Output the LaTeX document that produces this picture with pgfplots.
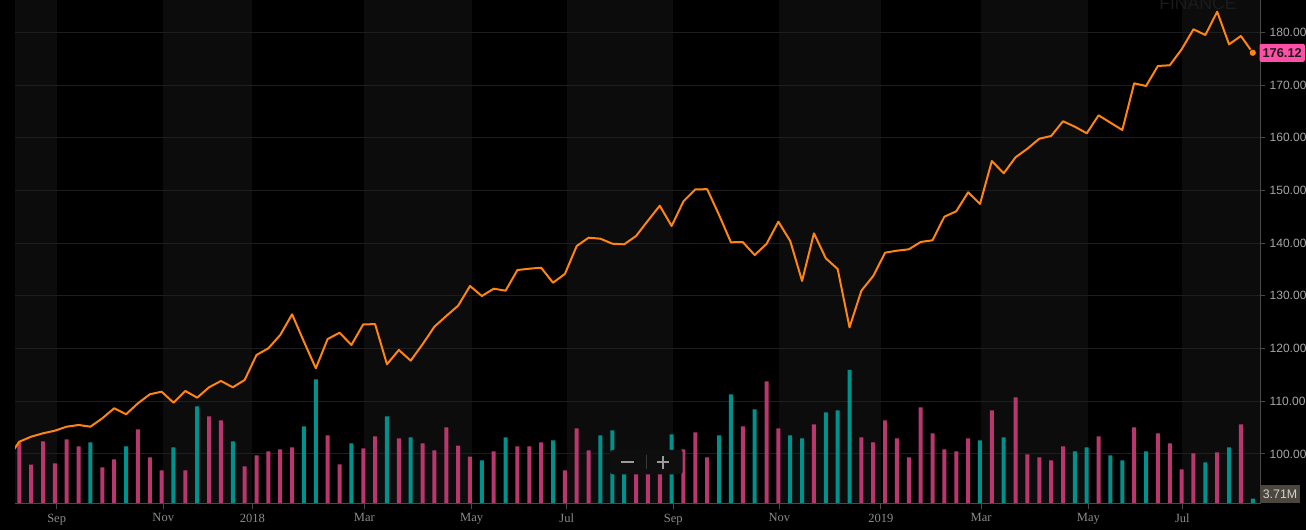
\documentclass[border=0pt]{standalone}
\usepackage{pgfplots}
\pgfplotsset{compat=1.18}
\usepackage{fontspec}
\setmainfont{Liberation Serif}
\newfontfamily\arial{Liberation Sans}
\definecolor{bg}{HTML}{000000}
\definecolor{band}{HTML}{0C0C0C}
\definecolor{gridc}{HTML}{1E1E1E}
\definecolor{up}{HTML}{B8386E}
\definecolor{down}{HTML}{00918D}
\definecolor{pline}{HTML}{FF8410}
\definecolor{lab}{HTML}{A6A6A6}
\definecolor{xlab}{HTML}{8C8C8C}
\definecolor{axc}{HTML}{4A4A4A}
\definecolor{pinkbox}{HTML}{FF4FA7}
\definecolor{labdark}{HTML}{1A1A1A}
\definecolor{volbox}{HTML}{4B473F}
\definecolor{volt}{HTML}{D0D0D0}
\definecolor{ctlbg}{HTML}{0E0E0E}
\definecolor{ctl}{HTML}{9A9A9A}
\definecolor{ctlsep}{HTML}{3A3A3A}
\definecolor{finc}{HTML}{1B1B1B}
\pgfplotsset{baseax/.style={scale only axis, width=933.75pt, height=378pt,
  at={(11.25pt,19.5pt)}, anchor=south west, xmin=-0.3626, xmax=104.61}}
\begin{document}
\begin{tikzpicture}[x=0.75pt,y=0.75pt]
\path[use as bounding box] (0,0) rectangle (1306,530);
\fill[bg] (0,0) rectangle (1306,530);
% ---- axis 1: month bands and grid
\begin{axis}[baseax, hide axis, ymin=90.51, ymax=186.13]
\fill[band] (axis cs:-0.3626,90.51) rectangle (axis cs:3.15,186.13);
\fill[band] (axis cs:12.14,90.51) rectangle (axis cs:19.65,186.13);
\fill[band] (axis cs:29.09,90.51) rectangle (axis cs:38.14,186.13);
\fill[band] (axis cs:46.16,90.51) rectangle (axis cs:55.14,186.13);
\fill[band] (axis cs:64.08,90.51) rectangle (axis cs:72.64,186.13);
\fill[band] (axis cs:81.09,90.51) rectangle (axis cs:90.14,186.13);
\fill[band] (axis cs:98.06,90.51) rectangle (axis cs:104.61,186.13);
\draw[gridc, line width=0.75pt] (axis cs:-0.3626,100) -- (axis cs:104.61,100);
\draw[gridc, line width=0.75pt] (axis cs:-0.3626,110) -- (axis cs:104.61,110);
\draw[gridc, line width=0.75pt] (axis cs:-0.3626,120) -- (axis cs:104.61,120);
\draw[gridc, line width=0.75pt] (axis cs:-0.3626,130) -- (axis cs:104.61,130);
\draw[gridc, line width=0.75pt] (axis cs:-0.3626,140) -- (axis cs:104.61,140);
\draw[gridc, line width=0.75pt] (axis cs:-0.3626,150) -- (axis cs:104.61,150);
\draw[gridc, line width=0.75pt] (axis cs:-0.3626,160) -- (axis cs:104.61,160);
\draw[gridc, line width=0.75pt] (axis cs:-0.3626,170) -- (axis cs:104.61,170);
\draw[gridc, line width=0.75pt] (axis cs:-0.3626,180) -- (axis cs:104.61,180);
\end{axis}
% watermark
\node[anchor=base west, inner sep=0pt, text=finc, font=\arial\fontsize{13.2}{13}\selectfont] at (1159,520) {FINANCE};
% ---- axis 2: volume (millions)
\begin{axis}[baseax, hide axis, ymin=0, ymax=352.8]
\addplot[ybar, bar width=3pt, bar shift=0pt, fill=up, draw=none] coordinates {
(0,43.2)(1,27.5)(2,43.9)(3,28.5)(4,45.3)(5,40.4)(7,25.7)(8,31.3)(10,52.3)(11,32.7)(12,23.6)(14,23.6)(16,61.4)(17,58.6)(19,26.4)(20,34.1)(21,36.9)(22,38.3)(23,39.7)(26,48.1)(27,27.8)(29,39.0)(30,47.4)(32,46.0)(34,42.5)(35,37.6)(36,53.7)(37,40.8)(38,33.1)(40,36.9)(42,40.4)(43,40.4)(44,43.2)(46,23.6)(47,53.0)(48,37.6)(52,33.6)(53,30.8)(54,32.2)(56,38.3)(57,50.2)(58,32.7)(61,54.4)(63,85.9)(64,53.0)(67,55.8)(71,46.7)(72,43.2)(73,58.6)(74,46.0)(75,32.7)(76,67.7)(77,49.5)(78,38.3)(79,36.9)(80,46.0)(82,65.6)(84,74.7)(85,34.8)(86,32.7)(87,30.6)(88,40.4)(91,47.4)(94,53.7)(96,49.5)(97,42.5)(98,24.3)(99,35.5)(101,36.2)(103,55.8)};
\addplot[ybar, bar width=3pt, bar shift=0pt, fill=down, draw=none] coordinates {
(6,43.2)(9,40.4)(13,39.7)(15,68.4)(18,43.9)(24,54.4)(25,87.3)(28,42.5)(31,61.4)(33,46.7)(39,30.6)(41,46.7)(45,44.6)(49,48.1)(50,51.6)(51,35.0)(55,48.8)(59,48.1)(60,76.8)(62,66.3)(65,48.1)(66,46.0)(68,64.2)(69,65.6)(70,93.8)(81,44.6)(83,46.7)(89,36.9)(90,39.7)(92,34.1)(93,30.6)(95,36.9)(100,29.2)(102,39.7)(104,3.71)};
\coordinate (lastv) at (axis cs:104.61,7);
\end{axis}
% ---- zoom control
\fill[ctlbg, rounded corners=2pt] (610,55.7) rectangle (682.7,80);
\draw[ctl, line width=1.1pt] (621,68) -- (633.5,68);
\draw[ctl, line width=1.1pt] (656.7,68) -- (669,68);
\draw[ctl, line width=1.1pt] (662.8,73.7) -- (662.8,61.3);
\draw[ctlsep, line width=0.75pt] (646.7,75) -- (646.7,61);
% ---- axis 3: price
\begin{axis}[baseax, ymin=90.51, ymax=186.13,
  axis x line*=bottom, axis y line*=right,
  axis line style={draw=axc, line width=0.75pt, -},
  tick align=outside, major tick length=3.75pt,
  tick style={draw=axc, line width=0.75pt},
  xtick={3.15,12.14,19.65,29.09,38.14,46.16,55.14,64.08,72.64,81.09,90.14,98.06},
  xticklabels={Sep,Nov,2018,Mar,May,Jul,Sep,Nov,2019,Mar,May,Jul},
  x tick label style={font=\fontsize{9.4}{11}\selectfont, text=xlab},
  ytick={100,110,120,130,140,150,160,170,180},
  yticklabel pos=right,
  y tick label style={font=\arial\fontsize{9}{11}\selectfont, text=lab,
    /pgf/number format/.cd, fixed, fixed zerofill, precision=2, assume math mode=true}]
\addplot[pline, line width=1.5pt, line join=round] coordinates {
(-1,99.05)(0,102.33)(1,103.28)(2,103.92)(3,104.42)(4,105.18)(5,105.50)(6,105.18)(7,106.77)(8,108.67)(9,107.53)(10,109.61)(11,111.32)(12,111.82)(13,109.73)(14,111.95)(15,110.68)(16,112.65)(17,113.85)(18,112.65)(19,114.04)(20,118.78)(21,120.05)(22,122.57)(23,126.50)(24,121.30)(25,116.26)(26,121.81)(27,123.01)(28,120.68)(29,124.60)(30,124.62)(31,117.01)(32,119.73)(33,117.70)(34,120.81)(35,124.15)(36,126.18)(37,128.13)(38,131.87)(39,129.97)(40,131.36)(41,130.98)(42,134.90)(43,135.15)(44,135.34)(45,132.49)(46,134.15)(47,139.46)(48,141.03)(49,140.84)(50,139.89)(51,139.78)(52,141.35)(53,144.26)(54,147.10)(55,143.25)(56,147.94)(57,150.21)(58,150.23)(59,145.34)(60,140.16)(61,140.20)(62,137.75)(63,139.84)(64,144.07)(65,140.41)(66,132.82)(67,141.87)(68,137.12)(69,135.09)(70,124.03)(71,130.98)(72,133.77)(73,138.19)(74,138.57)(75,138.83)(76,140.22)(77,140.54)(78,145.02)(79,146.04)(80,149.65)(81,147.43)(82,155.58)(83,153.25)(84,156.29)(85,157.92)(86,159.81)(87,160.33)(88,163.12)(89,162.09)(90,160.84)(91,164.25)(92,162.85)(93,161.46)(94,170.32)(95,169.81)(96,173.61)(97,173.74)(98,176.77)(99,180.57)(100,179.49)(101,183.91)(102,177.72)(103,179.30)(104,176.12)};
\addplot[only marks, mark=*, mark size=2.7pt, mark options={fill=pline, draw=none}] coordinates {(104,176.12)};
\coordinate (lastp) at (axis cs:104.61,176.12);
\end{axis}
% ---- value labels
\node[fill=pinkbox, text=labdark, font=\arial\bfseries\fontsize{9.6}{10}\selectfont,
  anchor=west, inner xsep=2.25pt, inner ysep=0pt, minimum height=13.5pt, rounded corners=1pt,
  xshift=-0.5pt] at (lastp) {176.12};
\node[fill=volbox, text=volt, font=\arial\fontsize{9.3}{10}\selectfont,
  anchor=west, inner xsep=2.4pt, inner ysep=0pt, minimum height=13.3pt,
  xshift=-0.5pt] at (lastv) {3.71M};
\end{tikzpicture}
\end{document}
